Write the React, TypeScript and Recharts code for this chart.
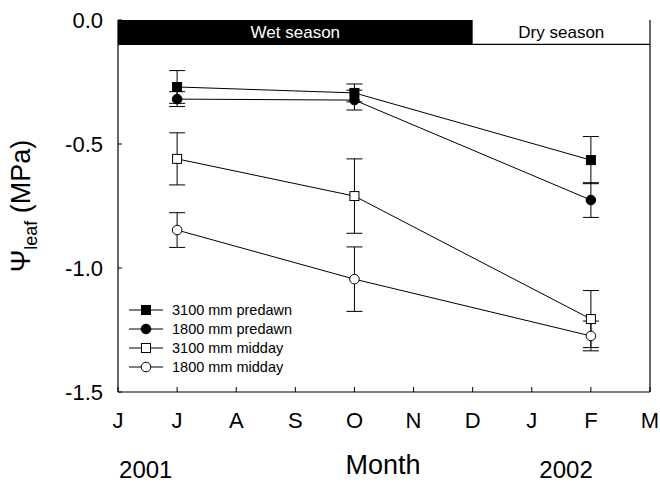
import { LineChart, Line, XAxis, YAxis, ErrorBar, ReferenceArea, ReferenceLine, Legend } from "recharts"

const monthLabels = ["J", "J", "A", "S", "O", "N", "D", "J", "F", "M"]
const monthTicks = [0, 1, 2, 3, 4, 5, 6, 7, 8, 9]
const sampleMonths = [1, 4, 8]
const yTicks = [-1.5, -1.0, -0.5, 0.0]

const predawn3100 = [-0.27, -0.294, -0.565]
const predawn3100Err = [0.066, 0.036, 0.095]
const predawn1800 = [-0.319, -0.323, -0.726]
const predawn1800Err = [0.03, 0.04, 0.07]
const midday3100 = [-0.56, -0.71, -1.206]
const midday3100Err = [0.105, 0.15, 0.115]
const midday1800 = [-0.847, -1.045, -1.274]
const midday1800Err = [0.07, 0.13, 0.06]

const seasonBar = -0.098
const yearLabels = [
  { text: "2001", at: 0.47 },
  { text: "2002", at: 7.58 },
]

const data = sampleMonths.map((m, i) => ({
  month: m,
  p3100: predawn3100[i],
  p3100Err: predawn3100Err[i],
  p1800: predawn1800[i],
  p1800Err: predawn1800Err[i],
  m3100: midday3100[i],
  m3100Err: midday3100Err[i],
  m1800: midday1800[i],
  m1800Err: midday1800Err[i],
}))

const FONT = "'Liberation Sans', Arial, sans-serif"

type Shape = "square" | "circle"
const markers: Record<string, { shape: Shape; filled: boolean }> = {
  p3100: { shape: "square", filled: true },
  p1800: { shape: "circle", filled: true },
  m3100: { shape: "square", filled: false },
  m1800: { shape: "circle", filled: false },
}

const series = [
  { key: "p3100", name: "3100 mm predawn" },
  { key: "p1800", name: "1800 mm predawn" },
  { key: "m3100", name: "3100 mm midday" },
  { key: "m1800", name: "1800 mm midday" },
]

function Marker({ cx, cy, shape, filled }: { cx: number; cy: number; shape: Shape; filled: boolean }) {
  const fill = filled ? "#000" : "#fff"
  if (shape === "square") {
    return <rect x={cx - 4.5} y={cy - 4.5} width={9} height={9} fill={fill} stroke="#000" strokeWidth={1} />
  }
  return <circle cx={cx} cy={cy} r={4.8} fill={fill} stroke="#000" strokeWidth={1} />
}

const makeDot = (key: string) => (props: any) => {
  const { cx, cy, index } = props
  if (cx == null || cy == null) return <g key={`${key}-${index}`} />
  return (
    <g key={`${key}-${index}`}>
      <Marker cx={cx} cy={cy} shape={markers[key].shape} filled={markers[key].filled} />
    </g>
  )
}

// payload comes back in reverse, so keep the series order
function LegendBox() {
  return (
    <div style={{ fontFamily: FONT, fontSize: 14.5, color: "#000" }}>
      {series.map((s) => {
        const m = markers[s.key]
        return (
          <div key={s.key} style={{ display: "flex", alignItems: "center", height: 19 }}>
            <svg width={36} height={14} style={{ marginRight: 7 }}>
              <line x1={0} y1={7} x2={34} y2={7} stroke="#000" strokeWidth={1} />
              <Marker cx={17} cy={7} shape={m.shape} filled={m.filled} />
            </svg>
            <span>{s.name}</span>
          </div>
        )
      })}
    </div>
  )
}

function YLabel(props: any) {
  const { viewBox } = props
  const cy = viewBox.y + viewBox.height / 2
  const x = 30
  return (
    <text
      x={x}
      y={cy}
      transform={`rotate(-90, ${x}, ${cy})`}
      textAnchor="middle"
      fontFamily={FONT}
      fontSize={27}
      fill="#000"
    >
      <tspan>Ψ</tspan>
      <tspan fontSize={18} dy={7}>leaf</tspan>
      <tspan dy={-7}> (MPa)</tspan>
    </text>
  )
}

function XLabels(props: any) {
  const { viewBox } = props
  const toX = (v: number) => viewBox.x + (v / 9) * viewBox.width
  return (
    <g fontFamily={FONT} fill="#000">
      <text x={viewBox.x + viewBox.width / 2 - 1} y={474} textAnchor="middle" fontSize={27}>
        Month
      </text>
      {yearLabels.map((y) => (
        <text key={y.text} x={toX(y.at)} y={478} textAnchor="middle" fontSize={24}>
          {y.text}
        </text>
      ))}
    </g>
  )
}

export default function App() {
  return (
    <div style={{ position: "absolute", left: 0, top: 0, width: 660, height: 485, background: "#fff" }}>
      <LineChart width={660} height={485} data={data} margin={{ top: 20, right: 0, bottom: 53, left: 0 }}>
        <XAxis
          type="number"
          dataKey="month"
          domain={[0, 9]}
          ticks={monthTicks}
          tickFormatter={(v: number) => monthLabels[v]}
          interval={0}
          height={40}
          tickSize={-5}
          tickMargin={25}
          axisLine={{ stroke: "#000", strokeWidth: 1.2 }}
          tickLine={{ stroke: "#000" }}
          tick={{ fill: "#000", fontSize: 22, fontFamily: FONT }}
          label={{ content: <XLabels /> }}
        />
        <YAxis
          yAxisId="left"
          type="number"
          domain={[-1.5, 0]}
          ticks={yTicks}
          tickFormatter={(v: number) => v.toFixed(1)}
          interval={0}
          width={118}
          tickSize={-4}
          tickMargin={19}
          axisLine={{ stroke: "#000", strokeWidth: 1.2 }}
          tickLine={{ stroke: "#000" }}
          tick={{ fill: "#000", fontSize: 22, fontFamily: FONT }}
          label={{ content: <YLabel /> }}
        />
        <YAxis
          yAxisId="right"
          orientation="right"
          type="number"
          domain={[-1.5, 0]}
          ticks={yTicks}
          interval={0}
          width={10}
          tickSize={-4}
          axisLine={{ stroke: "#000", strokeWidth: 1.2 }}
          tickLine={{ stroke: "#000" }}
          tick={false}
        />
        <ReferenceArea
          yAxisId="left"
          x1={0}
          x2={6}
          y1={seasonBar}
          y2={0}
          fill="#000"
          fillOpacity={1}
          stroke="none"
          label={{ value: "Wet season", position: "center", fill: "#fff", fontSize: 17, fontFamily: FONT }}
        />
        <ReferenceArea
          yAxisId="left"
          x1={6}
          x2={9}
          y1={seasonBar}
          y2={0}
          fill="#fff"
          fillOpacity={0}
          stroke="none"
          label={{ value: "Dry season", position: "center", fill: "#000", fontSize: 17, fontFamily: FONT }}
        />
        <ReferenceLine yAxisId="left" y={seasonBar} stroke="#000" strokeWidth={1.2} />
        {series.map((s) => (
          <Line
            key={s.key}
            yAxisId="left"
            type="linear"
            dataKey={s.key}
            name={s.name}
            stroke="#000"
            strokeWidth={1}
            dot={makeDot(s.key)}
            activeDot={false}
            isAnimationActive={false}
          >
            <ErrorBar dataKey={`${s.key}Err`} width={8} stroke="#000" strokeWidth={1} direction="y" />
          </Line>
        ))}
        <Legend
          layout="vertical"
          align="center"
          verticalAlign="middle"
          content={<LegendBox />}
          wrapperStyle={{ left: 129, top: 300, width: "auto" }}
        />
      </LineChart>
    </div>
  )
}
